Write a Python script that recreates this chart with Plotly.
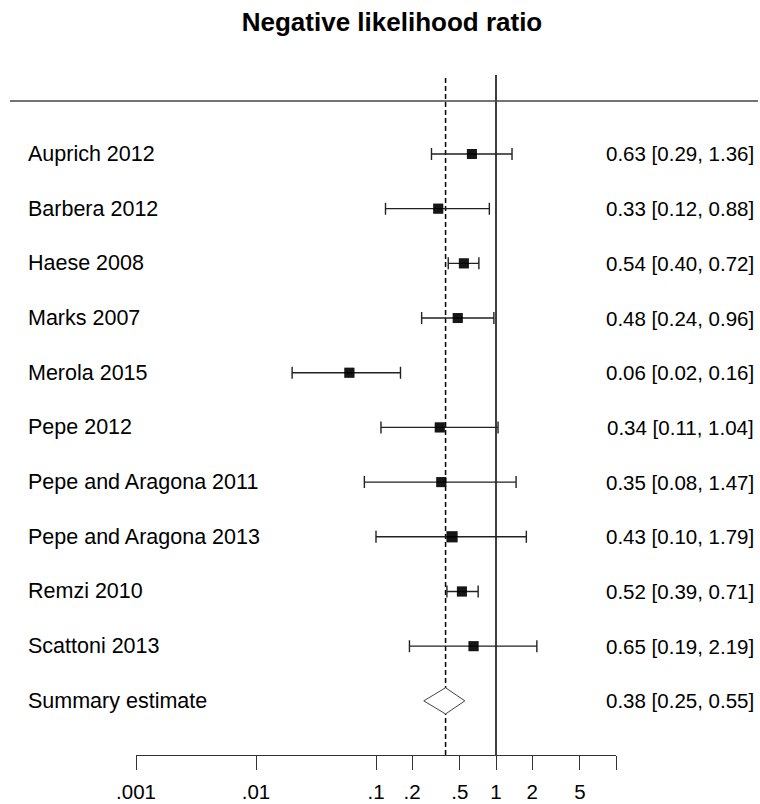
import plotly.graph_objects as go

studies = ["Auprich 2012", "Barbera 2012", "Haese 2008", "Marks 2007", "Merola 2015",
           "Pepe 2012", "Pepe and Aragona 2011", "Pepe and Aragona 2013", "Remzi 2010",
           "Scattoni 2013"]
est = [0.63, 0.33, 0.54, 0.48, 0.06, 0.34, 0.35, 0.43, 0.52, 0.65]
lo = [0.29, 0.12, 0.40, 0.24, 0.02, 0.11, 0.08, 0.10, 0.39, 0.19]
hi = [1.36, 0.88, 0.72, 0.96, 0.16, 1.04, 1.47, 1.79, 0.71, 2.19]
marker_sizes = [10, 10, 10, 10, 10, 10, 10, 11, 10, 10]
summary_label = "Summary estimate"
summary_est, summary_lo, summary_hi = 0.38, 0.25, 0.55
tick_vals = [0.001, 0.01, 0.1, 0.2, 0.5, 1, 2, 5, 10]
tick_text = [".001", ".01", ".1", ".2", ".5", "1", "2", "5", ""]
title = "Negative likelihood ratio"

FONT = "Liberation Sans, Arial, sans-serif"
rows = list(range(len(studies)))
srow = len(studies)

fig = go.Figure()

fig.add_trace(go.Scatter(
    x=est, y=rows, mode="markers",
    marker=dict(symbol="square", size=marker_sizes, color="black", line=dict(width=0)),
    error_x=dict(type="data", symmetric=False,
                 array=[h - e for h, e in zip(hi, est)],
                 arrayminus=[e - l for e, l in zip(est, lo)],
                 color="#222222", thickness=1.4, width=6),
    showlegend=False, hoverinfo="skip"))
# redraw squares on top of the error bars
fig.add_trace(go.Scatter(
    x=est, y=rows, mode="markers",
    marker=dict(symbol="square", size=marker_sizes, color="black", line=dict(width=0)),
    showlegend=False, hoverinfo="skip"))

dh = 0.24
fig.add_trace(go.Scatter(
    x=[summary_lo, summary_est, summary_hi, summary_est, summary_lo],
    y=[srow, srow - dh, srow, srow + dh, srow],
    mode="lines", fill="toself", fillcolor="white",
    line=dict(color="#444444", width=1),
    showlegend=False, hoverinfo="skip"))

# vertical reference lines
fig.add_shape(type="line", xref="x", yref="paper", x0=1, x1=1, y0=0, y1=1,
              line=dict(color="black", width=1.5), layer="below")
fig.add_shape(type="line", xref="x", yref="paper", x0=summary_est, x1=summary_est, y0=0, y1=1,
              line=dict(color="black", width=1.5, dash="5px,3px"), layer="below")
# horizontal header line
fig.add_shape(type="line", xref="paper", yref="paper", x0=-0.2625, x1=1.2958,
              y0=0.9618, y1=0.9618, line=dict(color="#444444", width=1.3))

labels = studies + [summary_label]
ests = est + [summary_est]
los = lo + [summary_lo]
his = hi + [summary_hi]
for i, (lab, e, l, h) in enumerate(zip(labels, ests, los, his)):
    fig.add_annotation(x=-0.2285, xref="paper", y=i, yref="y", text=lab,
                       showarrow=False, xanchor="left", yanchor="middle",
                       font=dict(family=FONT, size=21.5, color="black"))
    fig.add_annotation(x=1.2916, xref="paper", y=i, yref="y",
                       text=f"{e:.2f} [{l:.2f}, {h:.2f}]",
                       showarrow=False, xanchor="right", yanchor="middle",
                       font=dict(family=FONT, size=20.5, color="black"))

fig.update_layout(
    width=760, height=804,
    margin=dict(l=136, r=144, t=75, b=49, autoexpand=False),
    paper_bgcolor="white", plot_bgcolor="white",
    title=dict(text=f"<b>{title}</b>", x=392 / 760, xanchor="center",
               y=1 - 22 / 804, yanchor="middle",
               font=dict(family=FONT, size=26, color="black")),
    xaxis=dict(type="log", range=[-3, 1], tickvals=tick_vals, ticktext=tick_text,
               automargin=False,
               showline=True, linecolor="#333333", linewidth=1.3,
               ticks="outside", ticklen=14, tickwidth=1.3, tickcolor="#333333",
               ticklabelstandoff=4,
               showgrid=False, zeroline=False,
               tickfont=dict(family=FONT, size=20.5, color="black")),
    yaxis=dict(range=[10.99, -1.444], visible=False, automargin=False,
               showgrid=False, zeroline=False),
)

fig.write_html("out.html",
               config={"displayModeBar": False},
               post_script="document.body.style.margin='0';document.body.style.overflow='hidden';")
